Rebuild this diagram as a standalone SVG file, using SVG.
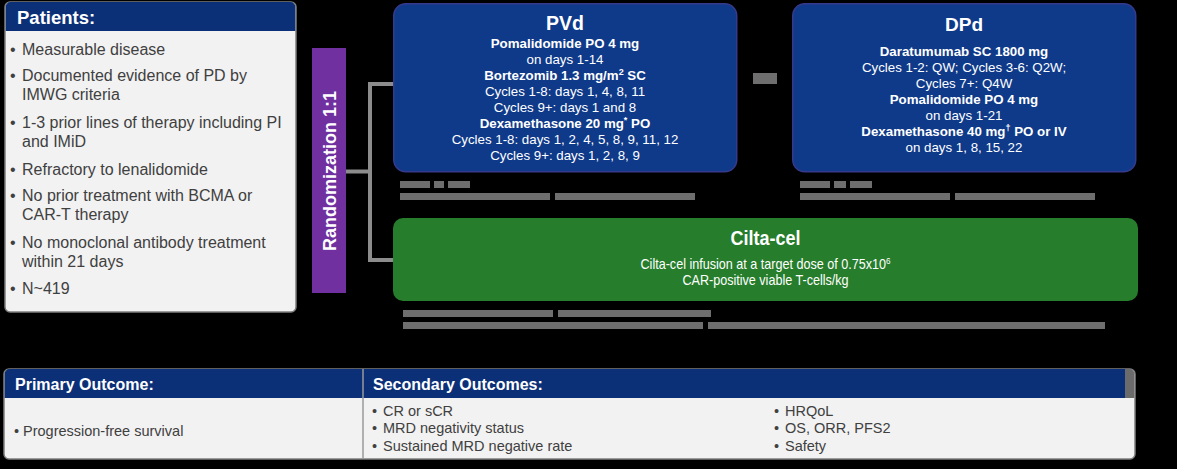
<svg xmlns="http://www.w3.org/2000/svg" width="1177" height="469" viewBox="0 0 1177 469">
<defs>
<style>
text{font-family:"Liberation Sans",Arial,sans-serif}
.hdr{fill:#ffffff;font-weight:bold}
.pt{fill:#404040;font-size:16px}
.bx{fill:#ffffff;font-size:13.3px;text-anchor:middle}
.b{font-weight:bold}
.tb{fill:#404040;font-size:14.5px}
.blur{fill:#6e6e6e;filter:url(#bl)}
.conn{stroke:#8c8c8c;stroke-width:4;fill:none}
</style>
<filter id="bl" x="-5%" y="-50%" width="110%" height="200%"><feGaussianBlur stdDeviation="0.7"/></filter>
</defs>
<rect width="1177" height="469" fill="#000000"/>

<g id="patients">
<rect x="5" y="2" width="291" height="310" rx="5" fill="#f2f2f2" stroke="#7f7f7f" stroke-width="1.5"/>
<path d="M5.75 31 V7 a5 5 0 0 1 5 -5 H290.25 a5 5 0 0 1 5 5 V31 Z" fill="#0c3078"/>
<text x="17" y="24" class="hdr" style="font-size:18.5px">Patients:</text>
<g class="pt">
<text x="10" y="55">• <tspan x="22">Measurable disease</tspan></text>
<text x="10" y="81">• <tspan x="22">Documented evidence of PD by</tspan></text>
<text x="22" y="100">IMWG criteria</text>
<text x="10" y="128">• <tspan x="22">1-3 prior lines of therapy including PI</tspan></text>
<text x="22" y="147">and IMiD</text>
<text x="10" y="175">• <tspan x="22">Refractory to lenalidomide</tspan></text>
<text x="10" y="201">• <tspan x="22">No prior treatment with BCMA or</tspan></text>
<text x="22" y="220">CAR-T therapy</text>
<text x="10" y="248">• <tspan x="22">No monoclonal antibody treatment</tspan></text>
<text x="22" y="267">within 21 days</text>
<text x="10" y="294">• <tspan x="22">N~419</tspan></text>
</g>
</g>

<g id="randomization">
<rect x="312" y="48" width="34" height="245" fill="#7030a0"/>
<text transform="translate(336,171) rotate(-90)" text-anchor="middle" class="hdr" style="font-size:18px">Randomization 1:1</text>
</g>

<g id="connectors">
<path class="conn" d="M346 171.5 H370"/>
<path class="conn" d="M393 84 H370 V260 H393"/>
</g>

<g id="pvd">
<rect x="393.75" y="3.75" width="343" height="168" rx="12" fill="#0f3a8a" stroke="#36398c" stroke-width="1.5"/>
<text x="565" y="30" class="bx b" style="font-size:19.5px">PVd</text>
<text x="565" y="48" class="bx b">Pomalidomide PO 4 mg</text>
<text x="565" y="64" class="bx">on days 1-14</text>
<text x="565" y="80" class="bx b">Bortezomib 1.3 mg/m<tspan font-size="9" dy="-5">2</tspan><tspan dy="5"> SC</tspan></text>
<text x="565" y="96" class="bx">Cycles 1-8: days 1, 4, 8, 11</text>
<text x="565" y="112" class="bx">Cycles 9+: days 1 and 8</text>
<text x="565" y="128" class="bx b">Dexamethasone 20 mg<tspan font-size="9" dy="-5">*</tspan><tspan dy="5"> PO</tspan></text>
<text x="565" y="144" class="bx">Cycles 1-8: days 1, 2, 4, 5, 8, 9, 11, 12</text>
<text x="565" y="160" class="bx">Cycles 9+: days 1, 2, 8, 9</text>
</g>

<g id="vs">
<rect x="753" y="73" width="24" height="11" class="blur"/>
</g>

<g id="dpd">
<rect x="792.75" y="3.75" width="343" height="168" rx="12" fill="#0f3a8a" stroke="#36398c" stroke-width="1.5"/>
<text x="964" y="31" class="bx b" style="font-size:19px">DPd</text>
<text x="964" y="56" class="bx b">Daratumumab SC 1800 mg</text>
<text x="964" y="72" class="bx">Cycles 1-2: QW; Cycles 3-6: Q2W;</text>
<text x="964" y="88" class="bx">Cycles 7+: Q4W</text>
<text x="964" y="104" class="bx b">Pomalidomide PO 4 mg</text>
<text x="964" y="120" class="bx">on days 1-21</text>
<text x="964" y="136" class="bx b">Dexamethasone 40 mg<tspan font-size="9" dy="-5">†</tspan><tspan dy="5"> PO or IV</tspan></text>
<text x="964" y="152" class="bx">on days 1, 8, 15, 22</text>
</g>

<g id="footnotes">
<rect x="400" y="181" width="30" height="7" class="blur"/>
<rect x="434" y="181" width="10" height="7" class="blur"/>
<rect x="448" y="181" width="22" height="7" class="blur"/>
<rect x="400" y="193" width="150" height="7" class="blur"/>
<rect x="555" y="193" width="140" height="7" class="blur"/>
<rect x="800" y="181" width="30" height="7" class="blur"/>
<rect x="834" y="181" width="12" height="7" class="blur"/>
<rect x="850" y="181" width="22" height="7" class="blur"/>
<rect x="800" y="193" width="150" height="7" class="blur"/>
<rect x="955" y="193" width="140" height="7" class="blur"/>
<rect x="403" y="310" width="150" height="7" class="blur"/>
<rect x="558" y="310" width="153" height="7" class="blur"/>
<rect x="403" y="322" width="300" height="7" class="blur"/>
<rect x="708" y="322" width="397" height="7" class="blur"/>
</g>

<g id="ciltacel">
<rect x="393" y="218" width="745" height="83" rx="10" fill="#267d2b"/>
<g transform="translate(765.5,0) scale(0.9,1)">
<text x="0" y="245" text-anchor="middle" class="hdr" style="font-size:20px">Cilta-cel</text>
<text x="0" y="269" text-anchor="middle" fill="#ffffff" font-size="14">Cilta-cel infusion at a target dose of 0.75x10<tspan font-size="9" dy="-5">6</tspan></text>
<text x="0" y="285" text-anchor="middle" fill="#ffffff" font-size="14">CAR-positive viable T-cells/kg</text>
</g>
</g>

<g id="outcomes">
<rect x="4" y="369" width="1131" height="90" rx="5" fill="#f2f2f2" stroke="#808080" stroke-width="1.5"/>
<path d="M4.75 398 V374 a5 5 0 0 1 5 -5 H1129.25 a5 5 0 0 1 5 5 V398 Z" fill="#6b6b6b"/>
<path d="M4.75 398 V374 a5 5 0 0 1 5 -5 H1125 V398 Z" fill="#0c3078"/>
<line x1="363" y1="369" x2="363" y2="459" stroke="#9a9a9a" stroke-width="1.5"/>
<text x="15" y="390" class="hdr" style="font-size:16px">Primary Outcome:</text>
<text x="373" y="390" class="hdr" style="font-size:16px">Secondary Outcomes:</text>
<g class="tb">
<text x="14" y="436">• <tspan x="23">Progression-free survival</tspan></text>
<text x="372" y="416">• <tspan x="383">CR or sCR</tspan></text>
<text x="372" y="433">• <tspan x="383">MRD negativity status</tspan></text>
<text x="372" y="451">• <tspan x="383">Sustained MRD negative rate</tspan></text>
<text x="774" y="416">• <tspan x="785">HRQoL</tspan></text>
<text x="774" y="433">• <tspan x="785">OS, ORR, PFS2</tspan></text>
<text x="774" y="451">• <tspan x="785">Safety</tspan></text>
</g>
</g>
</svg>
